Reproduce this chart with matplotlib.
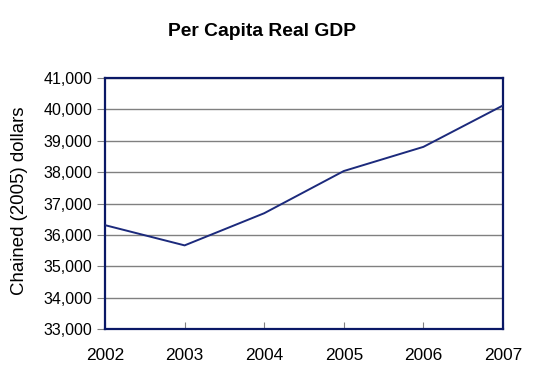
import matplotlib
matplotlib.use("Agg")
import matplotlib.pyplot as plt
from matplotlib.ticker import FuncFormatter

years = [2002, 2003, 2004, 2005, 2006, 2007]
gdp = [36310, 35665, 36690, 38035, 38805, 40125]
y_ticks = [33000, 34000, 35000, 36000, 37000, 38000, 39000, 40000, 41000]

plt.rcParams['font.family'] = ['Liberation Sans', 'DejaVu Sans']

fig = plt.figure(figsize=(5.36, 3.68), dpi=100)
ax = fig.add_axes([105/536, 1 - 329/368, (503-105)/536, (329-78)/368])

ax.plot(years, gdp, color='#1c2a7c', lw=1.4, zorder=3)
ax.set_xlim(2002, 2007)
ax.set_ylim(33000, 41000)
ax.set_yticks(y_ticks)
ax.set_xticks(years)
ax.yaxis.set_major_formatter(FuncFormatter(lambda v, p: f"{int(v):,}"))
ax.grid(axis='y', color='#808080', lw=1.0)
ax.set_axisbelow(True)
for s in ax.spines.values():
    s.set_color('#0a1866')
    s.set_linewidth(1.6)
ax.tick_params(axis='y', direction='out', length=6, width=0.8, color='#808080',
               labelsize=11.5, pad=3)
ax.tick_params(axis='x', direction='in', length=5, width=0.8, color='#808080',
               labelsize=12.4, pad=14)
ax.set_ylabel('Chained (2005) dollars', fontsize=13.4)
ax.yaxis.set_label_coords(-(105-28)/398, 0.51)
fig.text(261.5/536, 1 - 32/368, 'Per Capita Real GDP', ha='center', va='center',
         fontsize=13.9, fontweight='bold')

fig.savefig('out.png', dpi=100)
